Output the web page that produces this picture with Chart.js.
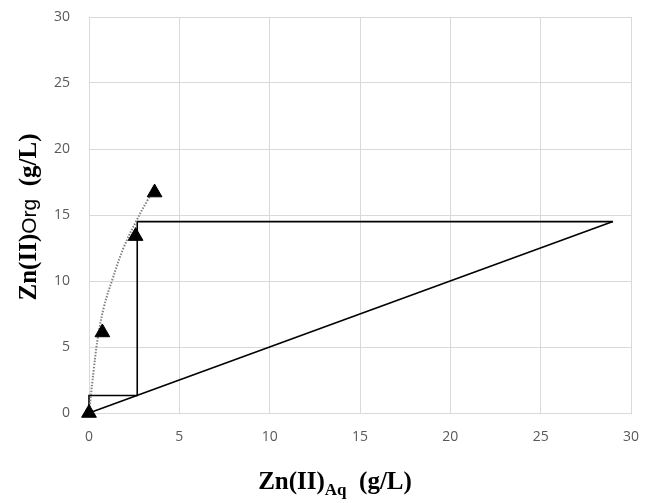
<!DOCTYPE html>
<html>
<head>
<meta charset="utf-8">
<script src="https://cdn.jsdelivr.net/npm/chart.js@4"></script>
<style>
  html, body { margin: 0; padding: 0; background: #fff; }
  #wrap { width: 649px; height: 503px; }
</style>
</head>
<body>
<div id="wrap"><canvas id="mt"></canvas></div>
<script>
// ── Equilibrium data (Zn(II) aq / org, g/L) ─────────────────
const eqAq  = [0, 0.74, 2.58, 3.63];
const eqOrg = [0, 6.1, 13.4, 16.7];

// ── Dotted equilibrium curve ────────────────────────────────
const curveAq  = [0, 0.28, 0.5, 0.83, 1.29, 1.94, 2.64, 3.23, 3.6];
const curveOrg = [0, 3.5, 5.8, 8.05, 10.1, 12.6, 14.6, 16.1, 16.9];

// ── Operating line ──────────────────────────────────────────
const opAq  = [0, 29];
const opOrg = [0, 14.5];

// ── Stage construction ──────────────────────────────────────
const stAq  = [29, 2.67, 2.67, 0, 0];
const stOrg = [14.5, 14.5, 1.33, 1.33, 0];

// ── Axis ticks ──────────────────────────────────────────────
const xTicks = [0, 5, 10, 15, 20, 25, 30];
const yTicks = [0, 5, 10, 15, 20, 25, 30];

const pts = (xs, ys) => xs.map((x, i) => ({ x, y: ys[i] }));

// ── Fixed plot frame ────────────────────────────────────────
const AREA = { left: 89, top: 17, right: 631, bottom: 413 };
const frame = {
  id: 'frame',
  afterLayout(chart) {
    const ca = chart.chartArea;
    Object.assign(ca, AREA, { width: AREA.right - AREA.left, height: AREA.bottom - AREA.top });
    const { x, y } = chart.scales;
    Object.assign(x, { left: AREA.left, right: AREA.right, top: AREA.bottom, bottom: chart.height,
                       width: AREA.right - AREA.left, height: chart.height - AREA.bottom });
    Object.assign(y, { left: 0, right: AREA.left, top: AREA.top, bottom: AREA.bottom,
                       width: AREA.left, height: AREA.bottom - AREA.top });
    x.configure();
    y.configure();
  }
};

// ── Axis titles with sub/inline text ────────────────────────
const titles = {
  id: 'titles',
  afterDraw(chart) {
    const { ctx } = chart;
    const serif = 'bold 25px "Liberation Serif", "DejaVu Serif", serif';
    const sub   = 'bold 17px "Liberation Serif", "DejaVu Serif", serif';
    const sans  = '21px "Liberation Sans", "DejaVu Sans", sans-serif';
    ctx.save();
    ctx.fillStyle = '#000';
    ctx.textBaseline = 'alphabetic';

    // x title: Zn(II)Aq (g/L)
    const xp = [['Zn(II)', serif, 0], ['Aq', sub, 6], ['  (g/L)', serif, 0]];
    let w = 0;
    xp.forEach(([t, f]) => { ctx.font = f; w += ctx.measureText(t).width; });
    let x = 335 - w / 2;
    xp.forEach(([t, f, dy]) => {
      ctx.font = f; ctx.fillText(t, x, 489 + dy); x += ctx.measureText(t).width;
    });

    // y title: Zn(II)Org (g/L), rotated
    const yp = [['Zn(II)', serif], ['Org', sans], ['  (g/L)', serif]];
    w = 0;
    yp.forEach(([t, f]) => { ctx.font = f; w += ctx.measureText(t).width; });
    ctx.translate(36, 217);
    ctx.rotate(-Math.PI / 2);
    x = -w / 2;
    yp.forEach(([t, f]) => {
      ctx.font = f; ctx.fillText(t, x, 0); x += ctx.measureText(t).width;
    });
    ctx.restore();
  }
};

const tickFont = { family: '"Open Sans", "Liberation Sans", sans-serif', size: 14 };

new Chart(document.getElementById('mt'), {
  type: 'scatter',
  data: {
    datasets: [
      {
        label: 'Equilibrium',
        data: pts(eqAq, eqOrg),
        pointStyle: 'triangle',
        pointRadius: 8.5,
        pointBackgroundColor: '#000',
        pointBorderColor: '#000',
        clip: false,
        order: 0
      },
      {
        label: 'Curve',
        data: pts(curveAq, curveOrg),
        showLine: true,
        tension: 0.4,
        borderColor: '#808080',
        borderWidth: 2,
        borderDash: [1.5, 1.5],
        pointRadius: 0,
        clip: false,
        order: 1
      },
      {
        label: 'Operating line',
        data: pts(opAq, opOrg),
        showLine: true,
        borderColor: '#000',
        borderWidth: 1.6,
        pointRadius: 0,
        clip: false,
        order: 2
      },
      {
        label: 'Stages',
        data: pts(stAq, stOrg),
        showLine: true,
        borderColor: '#000',
        borderWidth: 1.6,
        pointRadius: 0,
        clip: false,
        order: 2
      }
    ]
  },
  options: {
    responsive: true,
    maintainAspectRatio: false,
    animation: false,
    plugins: { legend: { display: false }, tooltip: { enabled: false } },
    scales: {
      x: {
        min: 0, max: 30,
        afterBuildTicks: s => { s.ticks = xTicks.map(v => ({ value: v })); },
        grid: { color: '#d9d9d9', drawTicks: false },
        border: { color: '#d9d9d9' },
        ticks: { color: '#595959', font: tickFont, padding: 16 }
      },
      y: {
        min: 0, max: 30,
        afterBuildTicks: s => { s.ticks = yTicks.map(v => ({ value: v })); },
        grid: { color: '#d9d9d9', drawTicks: false },
        border: { color: '#d9d9d9' },
        ticks: { color: '#595959', font: tickFont, padding: 19 }
      }
    }
  },
  plugins: [frame, titles]
});
</script>
</body>
</html>
